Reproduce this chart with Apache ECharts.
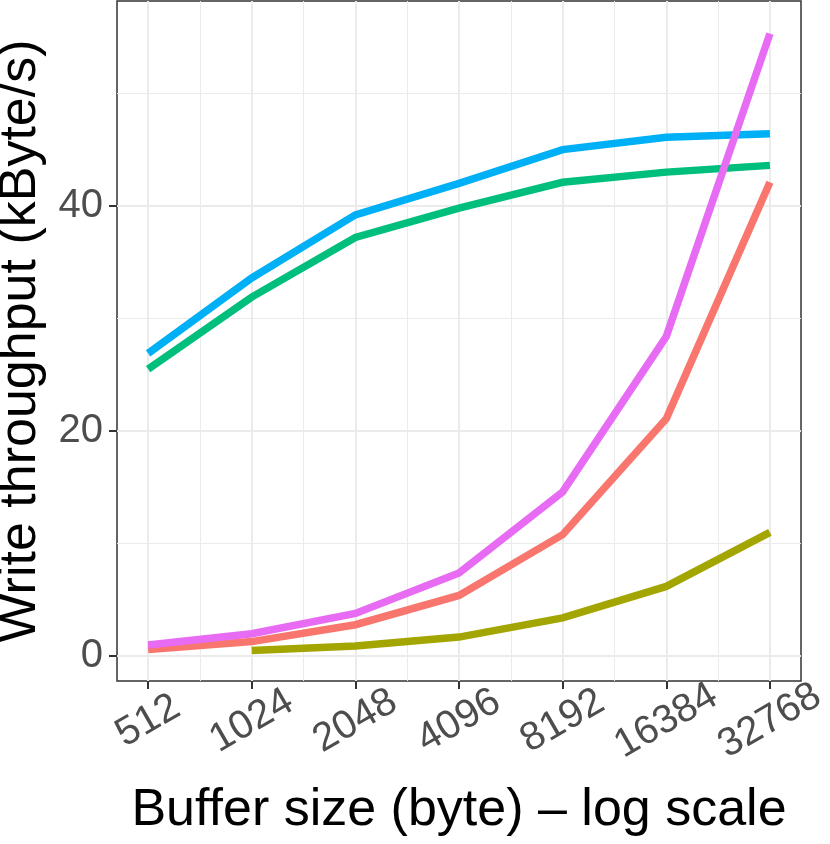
<!DOCTYPE html>
<html><head><meta charset="utf-8">
<script src="https://cdn.jsdelivr.net/npm/echarts@6/dist/echarts.min.js"></script>
<style>html,body{margin:0;padding:0;background:#fff}#c{width:830px;height:844px}</style>
</head><body><div id="c"></div>
<script>
const bufferSizes = [512, 1024, 2048, 4096, 8192, 16384, 32768];
const seriesRed = [0.6, 1.3, 2.8, 5.4, 10.8, 21.1, 42.1];
const seriesOlive = [null, 0.5, 0.9, 1.7, 3.4, 6.2, 11.0];
const seriesGreen = [25.5, 31.9, 37.2, 39.8, 42.1, 43.0, 43.6];
const seriesBlue = [26.9, 33.6, 39.2, 42.0, 45.0, 46.1, 46.4];
const seriesMagenta = [1.0, 2.0, 3.8, 7.4, 14.6, 28.4, 55.3];
const yMajorTicks = [0, 20, 40];
const yMinorTicks = [10, 30, 50];

const xMajor = bufferSizes.map((s, i) => i);
const xMinor = bufferSizes.slice(1).map((s, i) => i + 0.5);
const FONT = 'Liberation Sans';

function mk(name, vals, color) {
  return {
    name: name, type: 'line', xAxisIndex: 0, yAxisIndex: 0,
    data: vals.map((v, i) => [i, v]).filter(p => p[1] !== null),
    showSymbol: false, symbol: 'none',
    lineStyle: { color: color, width: 7.5, cap: 'butt', join: 'miter' },
    itemStyle: { color: color },
    z: 3, animation: false
  };
}

const chart = echarts.init(document.getElementById('c'), null, { renderer: 'canvas' });
chart.setOption({
  animation: false,
  backgroundColor: '#ffffff',
  grid: { left: 117, right: 29, top: 1, bottom: 163, show: true, borderColor: '#333333', borderWidth: 1.5, backgroundColor: 'transparent', containLabel: false, outerBoundsMode: 'none' },
  xAxis: [
    {
      type: 'value', min: -0.3, max: 6.3, position: 'bottom',
      name: 'Buffer size (byte) \u2013 log scale', nameLocation: 'middle', nameGap: 104,
      nameTextStyle: { fontSize: 52, color: '#000', fontFamily: FONT },
      axisLine: { show: false, onZero: false },
      axisTick: { show: true, length: 8, customValues: xMajor, lineStyle: { color: '#333333', width: 2 } },
      axisLabel: { show: true, customValues: xMajor, rotate: 30, margin: 40, align: 'center', verticalAlign: 'middle',
        fontSize: 40, color: '#4D4D4D', fontFamily: FONT, formatter: v => String(bufferSizes[Math.round(v)]) },
      splitLine: { show: true, lineStyle: { color: '#EBEBEB', width: 2 } },
      minorTick: { show: false }
    },
    {
      type: 'value', min: -0.3, max: 6.3, position: 'bottom', gridIndex: 0,
      axisLine: { show: false, onZero: false },
      axisTick: { show: false, customValues: xMinor },
      axisLabel: { show: false, customValues: xMinor },
      splitLine: { show: true, lineStyle: { color: '#EBEBEB', width: 1 } }
    }
  ],
  yAxis: [
    {
      type: 'value', min: -2.2, max: 58.2, position: 'left',
      name: 'Write throughput (kByte/s)', nameLocation: 'middle', nameGap: 70, nameRotate: 90,
      nameTextStyle: { fontSize: 52, color: '#000', fontFamily: FONT },
      axisLine: { show: false, onZero: false },
      axisTick: { show: true, length: 8, customValues: yMajorTicks, lineStyle: { color: '#333333', width: 2 } },
      axisLabel: { show: true, customValues: yMajorTicks, margin: 14, fontSize: 40, color: '#4D4D4D', fontFamily: FONT },
      splitLine: { show: true, lineStyle: { color: '#EBEBEB', width: 2 } }
    },
    {
      type: 'value', min: -2.2, max: 58.2, position: 'left', gridIndex: 0,
      axisLine: { show: false, onZero: false },
      axisTick: { show: false, customValues: yMinorTicks },
      axisLabel: { show: false, customValues: yMinorTicks },
      splitLine: { show: true, lineStyle: { color: '#EBEBEB', width: 1 } }
    }
  ],
  series: [
    mk('Series 1', seriesRed, '#F8766D'),
    mk('Series 2', seriesOlive, '#A3A500'),
    mk('Series 3', seriesGreen, '#00BF7D'),
    mk('Series 4', seriesBlue, '#00B0F6'),
    mk('Series 5', seriesMagenta, '#E76BF3')
  ]
});
</script></body></html>
